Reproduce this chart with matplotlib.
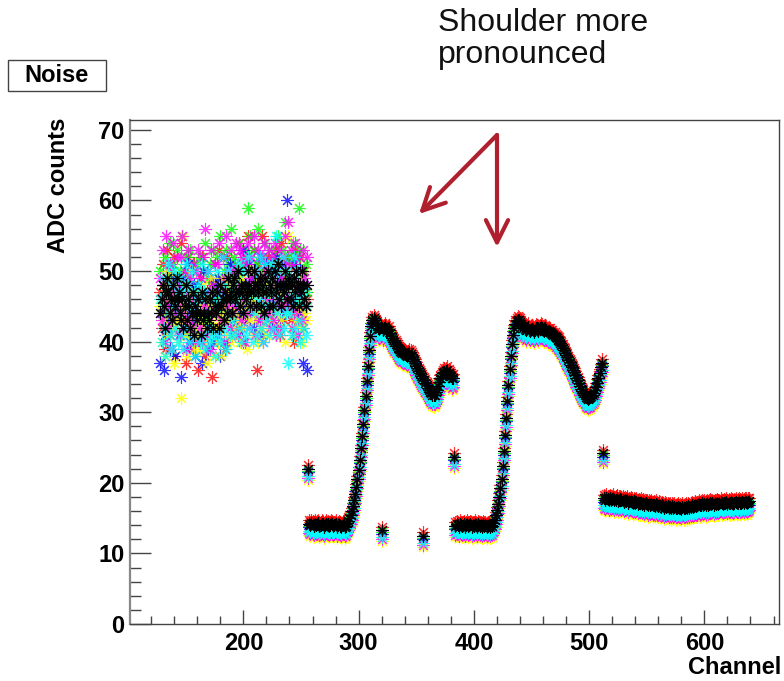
import matplotlib
matplotlib.use("Agg")
import matplotlib.pyplot as plt
from matplotlib.patches import Rectangle, FancyArrowPatch
from matplotlib.ticker import MultipleLocator
import numpy as np

plt.rcParams['font.family'] = ['Liberation Sans', 'DejaVu Sans']

# channels 128-255 are noisy, 256-639 follow a common shape
noisy_channels = np.arange(128, 256)
tail_channels = np.arange(256, 640)

# noise readings per colour, channels 128-255 (16 per row)
noise_red = [
    47, 42, 51, 44, 39, 48, 53, 45, 41, 50, 46, 43, 52, 38, 47, 44,
    49, 41, 54, 46, 43, 50, 37, 45, 52, 48, 42, 46, 39, 51, 44, 47,
    43, 36, 49, 45, 52, 41, 47, 38, 44, 50, 46, 42, 48, 35, 45, 51,
    44, 48, 40, 53, 46, 42, 49, 45, 39, 47, 52, 43, 46, 50, 41, 48,
    45, 51, 47, 42, 54, 44, 49, 46, 40, 52, 47, 43, 55, 48, 45, 50,
    46, 53, 44, 49, 36, 51, 47, 42, 55, 45, 50, 48, 43, 52, 46, 49,
    44, 51, 47, 42, 53, 48, 45, 50, 41, 54, 47, 43, 49, 46, 52, 45,
    48, 43, 51, 46, 40, 53, 47, 49, 44, 52, 45, 48, 42, 50, 47, 46,
]
noise_green = [
    50, 45, 48, 43, 52, 47, 41, 49, 54, 46, 44, 51, 48, 42, 53, 47,
    45, 50, 43, 55, 48, 46, 52, 41, 49, 47, 53, 44, 50, 46, 42, 51,
    48, 44, 52, 46, 40, 50, 47, 54, 43, 49, 45, 51, 47, 42, 53, 48,
    46, 52, 44, 49, 55, 47, 43, 50, 48, 53, 45, 51, 46, 56, 49, 44,
    52, 47, 50, 45, 54, 49, 46, 51, 48, 51, 44, 53, 59, 50, 55, 46,
    49, 53, 47, 51, 45, 56, 48, 50, 44, 52, 47, 54, 49, 46, 51, 48,
    53, 47, 50, 45, 52, 48, 55, 46, 51, 49, 53, 47, 57, 50, 45, 52,
    48, 51, 46, 54, 49, 47, 52, 45, 59, 53, 48, 46, 50, 49, 51, 47,
]
noise_blue = [
    37, 44, 48, 36, 41, 46, 43, 50, 39, 45, 47, 42, 49, 38, 44, 46,
    41, 47, 35, 44, 49, 42, 46, 39, 51, 44, 40, 47, 43, 48, 38, 45,
    43, 48, 40, 46, 37, 50, 44, 41, 47, 39, 45, 49, 42, 46, 40, 48,
    44, 41, 49, 45, 38, 47, 52, 43, 46, 40, 48, 44, 51, 42, 47, 45,
    43, 49, 46, 41, 50, 44, 47, 42, 53, 45, 48, 43, 46, 51, 44, 49,
    47, 42, 50, 45, 48, 43, 52, 46, 41, 49, 44, 47, 51, 45, 43, 48,
    46, 50, 44, 48, 42, 52, 45, 49, 43, 47, 51, 44, 48, 45, 60, 46,
    44, 49, 46, 41, 51, 45, 48, 43, 47, 50, 44, 46, 37, 48, 45, 36,
]
noise_yellow = [
    45, 40, 48, 43, 38, 46, 41, 50, 44, 39, 47, 42, 37, 45, 49, 43,
    40, 46, 32, 44, 55, 41, 45, 38, 47, 43, 50, 42, 46, 39, 44, 41,
    47, 43, 39, 45, 42, 48, 40, 44, 37, 46, 41, 49, 43, 45, 38, 44,
    42, 47, 40, 45, 43, 38, 49, 44, 41, 46, 43, 48, 40, 45, 42, 47,
    44, 41, 48, 43, 46, 40, 45, 49, 42, 47, 44, 39, 46, 43, 50, 45,
    41, 46, 43, 48, 44, 40, 47, 42, 45, 49, 43, 46, 41, 48, 44, 47,
    43, 48, 45, 41, 47, 44, 50, 42, 46, 43, 48, 45, 40, 47, 44, 55,
    46, 42, 48, 44, 41, 47, 43, 45, 49, 42, 46, 40, 47, 44, 43, 45,
]
noise_magenta = [
    49, 43, 53, 46, 40, 55, 45, 42, 51, 48, 39, 54, 47, 44, 52, 45,
    48, 41, 52, 55, 44, 50, 39, 47, 53, 43, 49, 42, 51, 46, 40, 50,
    46, 53, 42, 49, 40, 52, 45, 56, 41, 50, 47, 39, 53, 44, 48, 51,
    44, 51, 41, 54, 47, 43, 52, 40, 49, 55, 45, 50, 42, 53, 46, 44,
    50, 45, 54, 41, 48, 53, 43, 52, 46, 40, 51, 44, 54, 42, 49, 52,
    45, 55, 41, 50, 47, 53, 43, 49, 52, 40, 54, 46, 50, 44, 53, 42,
    48, 52, 43, 54, 41, 50, 46, 53, 42, 49, 52, 45, 55, 47, 51, 57,
    46, 53, 42, 51, 44, 54, 48, 41, 52, 47, 50, 43, 53, 49, 45, 52,
]
noise_cyan = [
    46, 40, 49, 42, 38, 47, 44, 51, 41, 48, 39, 45, 50, 42, 47, 40,
    44, 49, 41, 47, 39, 46, 51, 42, 48, 40, 45, 50, 41, 47, 38, 46,
    43, 48, 40, 46, 51, 41, 47, 39, 44, 50, 42, 40, 47, 41, 46, 38,
    45, 50, 41, 47, 40, 46, 52, 42, 48, 39, 44, 50, 41, 47, 43, 46,
    48, 41, 46, 51, 42, 47, 40, 50, 44, 48, 41, 46, 52, 42, 47, 45,
    40, 47, 44, 50, 41, 46, 52, 42, 48, 40, 45, 51, 43, 47, 41, 49,
    45, 51, 42, 47, 55, 44, 50, 41, 48, 46, 52, 42, 47, 44, 50, 37,
    44, 49, 41, 47, 52, 42, 46, 50, 43, 40, 48, 46, 42, 47, 41, 45,
]
noise_black = [
    44, 46, 48, 45, 42, 47, 49, 47, 44, 46, 43, 48, 46, 45, 49, 46,
    47, 44, 43, 46, 42, 45, 48, 43, 46, 45, 42, 44, 47, 41, 45, 44,
    43, 46, 44, 41, 47, 43, 44, 46, 42, 44, 43, 46, 44, 47, 42, 45,
    44, 47, 45, 42, 48, 45, 46, 43, 47, 46, 44, 49, 46, 47, 44, 48,
    49, 46, 47, 50, 47, 45, 48, 47, 44, 48, 46, 47, 50, 48, 45, 47,
    47, 50, 48, 45, 48, 47, 49, 45, 48, 47, 44, 49, 47, 50, 45, 48,
    47, 49, 45, 50, 47, 48, 51, 46, 48, 45, 48, 47, 50, 48, 46, 48,
    49, 46, 48, 45, 49, 47, 50, 48, 45, 48, 47, 50, 48, 46, 45, 48,
]

# black series, channels 256-639
tail_black = (
    [22.0]  # 256
    + [14.2, 14.0, 14.3, 14.1, 13.9, 14.2, 14.0, 14.1, 14.3, 13.9,
       14.0, 14.2, 14.1, 13.8, 14.0, 14.2, 14.1, 13.9, 14.0, 14.3,
       14.1, 13.9, 14.0, 14.2, 13.8, 14.0, 14.1, 13.9, 13.8, 14.0,
       14.1, 13.7, 13.9]  # 257-289
    + [14.3, 14.6, 15.0, 15.5, 16.0, 16.7, 17.5, 18.4, 19.4, 20.5,
       21.8, 23.3, 24.9, 26.6, 28.4, 30.3, 32.3, 34.4, 36.6, 38.8,
       40.8, 42.2, 43.0, 43.3]  # 290-313
    + [43.0, 42.6, 42.2, 42.0, 41.8, 42.1, 13.3, 41.6, 41.9, 42.2,
       41.8, 41.5, 41.7, 41.2, 40.8, 40.5, 40.2]  # 314-330
    + [40.0, 39.7, 39.4, 39.1, 38.9, 38.7, 38.6, 38.4, 38.5, 38.3,
       38.1, 38.0, 38.2, 38.5, 38.3, 38.0, 37.6, 37.3, 37.0, 36.6,
       36.2, 35.8, 35.5, 35.2, 34.9, 12.5, 34.5, 34.2, 33.8, 33.5,
       33.2, 32.9, 32.7, 32.5, 32.4, 32.5, 32.8, 33.2, 33.7, 34.3,
       34.8, 35.2, 35.5, 35.7, 35.4, 35.8, 36.0, 35.6, 35.3, 35.1,
       34.8, 34.9, 23.7]  # 331-383
    + [13.9, 14.1, 14.0, 13.8, 14.2, 14.0, 13.9, 14.1, 13.8, 14.0,
       14.2, 13.9, 14.0, 14.1, 13.8, 14.0, 13.9, 14.2, 14.0, 13.8,
       14.1, 13.9, 14.0, 13.8, 14.1, 13.9, 14.0, 13.7, 13.9, 14.0,
       13.8, 14.0, 13.9]  # 384-416
    + [14.3, 14.8, 15.4, 16.1, 17.0, 18.0, 19.2, 20.6, 22.4, 24.5,
       26.8, 29.2, 31.6, 33.9, 36.1, 38.0, 39.7, 41.0, 41.9, 42.5,
       42.9, 43.1, 43.0]  # 417-439
    + [42.8, 42.5, 42.2, 42.0, 41.8, 41.6, 41.9, 42.1, 41.7, 41.5,
       41.8, 41.6, 41.4, 41.7, 42.0, 41.8, 41.5, 41.9, 42.2, 42.0,
       41.7, 41.5, 41.8, 41.6, 41.3, 41.5, 41.4, 41.2, 41.1, 40.9,
       40.8, 40.6, 40.5]  # 440-472
    + [40.3, 40.1, 39.8, 39.5, 39.1, 38.8, 38.4, 38.1, 37.8, 37.4,
       37.1, 36.7, 36.4, 36.0, 35.7, 35.3, 34.9, 34.5, 34.1, 33.7,
       33.3, 33.0, 32.7, 32.4, 32.2, 32.0, 31.9, 32.0, 32.1, 32.3,
       32.4, 32.7, 33.1, 33.6, 34.2, 34.8, 35.6, 36.4, 37.0, 24.2]  # 473-512
    + [17.8, 17.6, 17.9, 17.7, 17.5, 17.8, 17.6, 17.7, 17.9, 17.5, 17.6, 17.8, 17.4, 17.6, 17.7, 17.5,
       17.6, 17.3, 17.5, 17.4, 17.6, 17.2, 17.4, 17.5, 17.3, 17.1, 17.4, 17.2, 17.3, 17.0, 17.2, 17.1,
       17.3, 17.0, 17.2, 16.9, 17.1, 17.0, 16.8, 17.1, 16.9, 17.0, 16.8, 16.9, 16.7, 17.0, 16.8, 16.7,
       16.9, 16.6, 16.8, 16.7, 16.5, 16.8, 16.6, 16.7, 16.5, 16.6, 16.4, 16.7, 16.5, 16.6, 16.4, 16.5,
       16.6, 16.4, 16.5, 16.3, 16.6, 16.4, 16.5, 16.6, 16.4, 16.7, 16.5, 16.6, 16.8, 16.6, 16.7, 16.9,
       16.7, 16.8, 17.0, 16.8, 16.9, 17.1, 16.9, 17.0, 16.8, 17.1, 16.9, 17.0, 17.2, 17.0, 17.1, 16.9,
       17.1, 17.0, 17.2, 17.0, 17.1, 17.3, 17.1, 17.0, 17.2, 17.1, 17.3, 17.0, 17.2, 17.1, 17.3, 17.2,
       17.0, 17.2, 17.3, 17.1, 17.2, 17.4, 17.2, 17.1, 17.3, 17.2, 17.4, 17.3, 17.1, 17.3, 17.4]  # 513-639
)

# how far each colour sits from the black band beyond channel 255
series_names = ['red', 'green', 'blue', 'yellow', 'magenta', 'cyan', 'black']
series_noise = [noise_red, noise_green, noise_blue, noise_yellow,
                noise_magenta, noise_cyan, noise_black]
tail_offsets = [0.5, -0.3, -0.5, -1.6, -1.3, -1.0, 0.0]

colors = ['#ff0000', '#00ff00', '#0000ff', '#ffff00', '#ff00ff', '#00ffff', '#000000']
alphas = [0.8, 0.8, 0.8, 0.85, 0.8, 0.8, 1.0]

fig = plt.figure(figsize=(7.84, 6.81), dpi=100)
ax = fig.add_axes([0.1658, 0.0837, 0.8282, 0.7401])

x_all = np.concatenate([noisy_channels, tail_channels])
for name, noise, off, col, al in zip(series_names, series_noise, tail_offsets, colors, alphas):
    y_all = np.concatenate([np.array(noise, dtype=float), np.array(tail_black) + off])
    ax.plot(x_all, y_all, ls='none', marker=(8, 2, 0), ms=9, mew=0.8,
            color=col, alpha=al, label=name)

ax.set_xlim(101.6, 665)
ax.set_ylim(0, 71.4)

ax.xaxis.set_major_locator(MultipleLocator(100))
ax.xaxis.set_minor_locator(MultipleLocator(20))
ax.yaxis.set_major_locator(MultipleLocator(10))
ax.yaxis.set_minor_locator(MultipleLocator(2))

ax.tick_params(axis='both', which='both', direction='in', color='#444444',
               width=1, labelsize=17)
ax.tick_params(axis='y', which='major', length=15, pad=4)
ax.tick_params(axis='y', which='minor', length=8)
ax.tick_params(axis='x', which='major', length=10, pad=6)
ax.tick_params(axis='x', which='minor', length=5.5)
for lbl in ax.get_xticklabels() + ax.get_yticklabels():
    lbl.set_fontweight('bold')

for side in ['top', 'right', 'bottom']:
    ax.spines[side].set_color('#444444')
    ax.spines[side].set_linewidth(1)
ax.spines['left'].set_color('#888888')
ax.spines['left'].set_linewidth(1.6)

# axis titles, ROOT style
fig.text(0.074, 0.728, 'ADC counts', rotation=90, ha='center', va='center',
         fontsize=17, fontweight='bold')
fig.text(0.997, 0.0205, 'Channel', ha='right', va='center',
         fontsize=17, fontweight='bold')

# "Noise" title box
fig.add_artist(Rectangle((8 / 784, 1 - 91 / 681), 98 / 784, 31 / 681,
                         transform=fig.transFigure, facecolor='white',
                         edgecolor='#444444', linewidth=1))
fig.text(57 / 784, 1 - 76 / 681, 'Noise', ha='center', va='center',
         fontsize=17, fontweight='bold')

# annotation
fig.text(438 / 784, 1 - 8 / 681, 'Shoulder more\npronounced', ha='left', va='top',
         fontsize=23, color='#111111', linespacing=1.1)

arrow_color = '#b01f2e'
start = (497 / 784, 1 - 135 / 681)
for end in [(419 / 784, 1 - 214 / 681), (497 / 784, 1 - 247 / 681)]:
    fig.add_artist(FancyArrowPatch(start, end, transform=fig.transFigure,
                                   arrowstyle='->,head_length=0.8,head_width=0.4',
                                   mutation_scale=20, color=arrow_color,
                                   linewidth=3, shrinkA=0, shrinkB=0))

fig.savefig('out.png', dpi=100)
